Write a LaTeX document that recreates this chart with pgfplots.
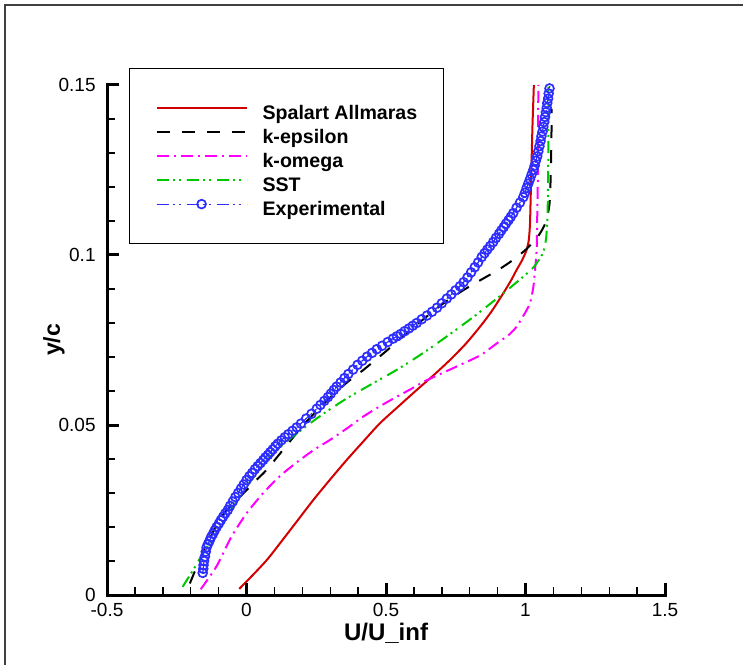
\documentclass[border=0pt]{standalone}
\usepackage{pgfplots}
\pgfplotsset{compat=1.18}
\usepackage{fontspec}
\setmainfont{Liberation Sans}
\definecolor{sared}{RGB}{210,0,0}
\definecolor{komag}{RGB}{255,0,255}
\definecolor{sstgreen}{RGB}{0,200,0}
\definecolor{expblue}{RGB}{45,45,255}
\begin{document}
\begin{tikzpicture}
\useasboundingbox (-53.5pt,-34.5pt) rectangle (318pt,297.5pt);
\draw[line width=0.8pt, black!75] (-51pt,-40pt) -- (-51pt,295pt) -- (330pt,295pt);
\begin{axis}[
  at={(0,0)}, anchor=south west,
  scale only axis, width=279pt, height=255pt,
  xmin=-0.5, xmax=1.5, ymin=0, ymax=0.15,
  axis line style={draw=none},
  xtick pos=bottom, ytick pos=left,
  xtick={-0.5,0,0.5,1,1.5}, ytick={0,0.05,0.1,0.15},
  scaled ticks=false,
  tick style={draw=none},
  /pgf/number format/assume math mode=true,
  /pgf/number format/fixed,
  ticklabel style={font=\fontsize{9.5}{11}\selectfont},
  xticklabel style={anchor=north, inner sep=0pt, yshift=-4pt},
  yticklabel style={anchor=east, inner sep=0pt, xshift=-5.5pt},
  xlabel={U/U\_inf}, ylabel={y/c},
  xlabel style={font=\bfseries\fontsize{12}{14}\selectfont, at={(axis description cs:0.5,0)}, anchor=base, yshift=-22.5pt},
  ylabel style={font=\bfseries\fontsize{11.5}{13}\selectfont, at={(axis description cs:-0.095,0.5)}, anchor=center},
  legend style={
    at={(axis description cs:0.0394,1.0333)}, anchor=north west,
    draw=black, line width=0.6pt, fill=white,
    inner xsep=13pt, inner ysep=12.25pt,
    row sep=-3pt,
    font=\bfseries\fontsize{9.8}{11}\selectfont,
    nodes={inner sep=0pt, text height=13pt, text depth=2pt},
    /tikz/every odd column/.append style={column sep=7.5pt},
  },
  legend cell align=left,
  legend image code/.code={\draw[mark repeat=2,mark phase=2,#1] plot coordinates {(0pt,0pt) (22.5pt,0pt) (45pt,0pt)};},
]
% Spalart Allmaras
\addplot[color=sared, line width=1pt, smooth, tension=0.4] coordinates {
(-0.026,0.0018) (0.030,0.0065) (0.075,0.0105) (0.120,0.0152) (0.180,0.0216) (0.239,0.0279)
(0.299,0.0339) (0.359,0.0397) (0.418,0.0451) (0.478,0.0505) (0.545,0.0555) (0.610,0.0603)
(0.670,0.0646) (0.729,0.0691) (0.785,0.0738) (0.837,0.0789) (0.880,0.0836) (0.920,0.0887)
(0.948,0.0925) (0.968,0.0956) (0.988,0.0985) (1.004,0.1015) (1.012,0.1045) (1.016,0.1090)
(1.018,0.1150) (1.021,0.1250) (1.025,0.1380) (1.030,0.1500)
};
\addlegendentry{Spalart Allmaras}
% k-epsilon
\addplot[color=black, line width=1pt, dash pattern=on 6.5pt off 6pt, smooth, tension=0.4] coordinates {
(-0.203,0.0034) (-0.180,0.0080) (-0.155,0.0127) (-0.120,0.0185) (-0.080,0.0240) (-0.040,0.0276)
(-0.011,0.0299) (0.030,0.0334) (0.072,0.0368) (0.140,0.0436) (0.204,0.0500) (0.250,0.0540)
(0.299,0.0580) (0.360,0.0625) (0.419,0.0662) (0.500,0.0717) (0.574,0.0770) (0.640,0.0815)
(0.706,0.0858) (0.780,0.0898) (0.849,0.0931) (0.900,0.0955) (0.946,0.0980) (1.000,0.1015)
(1.045,0.1055) (1.072,0.1095) (1.086,0.1150) (1.091,0.1250) (1.093,0.1350) (1.094,0.1430)
};
\addlegendentry{k-epsilon}
% k-omega
\addplot[color=komag, line width=1pt, dash pattern=on 6pt off 2.5pt on 1pt off 2.5pt, smooth, tension=0.4] coordinates {
(-0.164,0.0017) (-0.107,0.0085) (-0.055,0.0170) (0.000,0.0240) (0.060,0.0300) (0.120,0.0350)
(0.180,0.0390) (0.240,0.0426) (0.299,0.0456) (0.360,0.0490) (0.419,0.0525) (0.478,0.0555)
(0.538,0.0583) (0.590,0.0606) (0.634,0.0627) (0.700,0.0652) (0.777,0.0681) (0.840,0.0706)
(0.897,0.0740) (0.940,0.0765) (0.968,0.0789) (0.995,0.0825) (1.016,0.0858) (1.028,0.0905)
(1.034,0.0956) (1.040,0.1015) (1.042,0.1110) (1.044,0.1220) (1.045,0.1350) (1.046,0.1500)
};
\addlegendentry{k-omega}
% SST
\addplot[color=sstgreen, line width=1pt, dash pattern=on 6pt off 2pt on 1pt off 2pt on 1pt off 3pt, smooth, tension=0.4] coordinates {
(-0.229,0.0024) (-0.191,0.0074) (-0.150,0.0130) (-0.107,0.0185) (-0.060,0.0245) (-0.010,0.0305)
(0.024,0.0345) (0.100,0.0420) (0.180,0.0475) (0.270,0.0530) (0.359,0.0578) (0.450,0.0621)
(0.538,0.0662) (0.630,0.0710) (0.717,0.0760) (0.820,0.0822) (0.920,0.0887) (0.990,0.0935)
(1.030,0.0965) (1.062,0.1005) (1.074,0.1050) (1.079,0.1123) (1.081,0.1220) (1.082,0.1350)
(1.082,0.1495)
};
\addlegendentry{SST}
% Experimental
\addplot[color=expblue, line width=0.6pt, dash pattern=on 6pt off 2pt on 1pt off 2pt on 1pt off 3pt,
  mark=o, mark size=2.2pt, mark options={solid, line width=0.85pt}] coordinates {
(-0.157,0.0065) (-0.155,0.0077) (-0.154,0.0088) (-0.152,0.0100)
(-0.149,0.0113) (-0.146,0.0127) (-0.143,0.0140)
(-0.138,0.0150) (-0.132,0.0160) (-0.127,0.0170)
(-0.120,0.0180) (-0.114,0.0190) (-0.107,0.0200)
(-0.099,0.0210) (-0.092,0.0220) (-0.084,0.0230)
(-0.076,0.0240) (-0.067,0.0250) (-0.059,0.0262)
(-0.049,0.0275) (-0.040,0.0288) (-0.030,0.0300)
(-0.020,0.0313) (-0.010,0.0325) (0.000,0.0338)
(0.010,0.0349) (0.020,0.0359) (0.030,0.0370)
(0.040,0.0379) (0.050,0.0388) (0.060,0.0397)
(0.068,0.0405) (0.077,0.0412) (0.085,0.0420)
(0.094,0.0428) (0.103,0.0437) (0.112,0.0445)
(0.125,0.0455) (0.137,0.0464) (0.150,0.0473)
(0.165,0.0483) (0.180,0.0493) (0.195,0.0504)
(0.214,0.0519) (0.233,0.0533) (0.252,0.0548)
(0.265,0.0559) (0.279,0.0571) (0.292,0.0582)
(0.302,0.0592) (0.313,0.0603) (0.323,0.0613)
(0.337,0.0625) (0.351,0.0638) (0.365,0.0650)
(0.382,0.0663) (0.398,0.0677) (0.415,0.0689)
(0.432,0.0701) (0.450,0.0712) (0.467,0.0723)
(0.486,0.0733) (0.506,0.0744) (0.525,0.0754)
(0.539,0.0761) (0.553,0.0768) (0.567,0.0776) (0.582,0.0784) (0.596,0.0792) (0.610,0.0800)
(0.628,0.0811) (0.647,0.0822) (0.665,0.0833)
(0.683,0.0845) (0.700,0.0858) (0.718,0.0872)
(0.734,0.0884) (0.749,0.0896) (0.765,0.0908)
(0.778,0.0920) (0.792,0.0934) (0.805,0.0949)
(0.818,0.0964) (0.830,0.0978) (0.843,0.0994)
(0.853,0.1005) (0.863,0.1016) (0.873,0.1026)
(0.884,0.1038) (0.894,0.1050) (0.905,0.1062)
(0.913,0.1072) (0.922,0.1082) (0.930,0.1092)
(0.939,0.1102) (0.947,0.1112) (0.956,0.1123)
(0.968,0.1139) (0.980,0.1154) (0.992,0.1170)
(0.998,0.1183) (1.004,0.1197) (1.010,0.1210)
(1.016,0.1223) (1.022,0.1237) (1.028,0.1250)
(1.033,0.1263) (1.037,0.1277) (1.042,0.1290)
(1.046,0.1305) (1.050,0.1320) (1.054,0.1335)
(1.057,0.1349) (1.061,0.1363) (1.064,0.1377)
(1.067,0.1391) (1.070,0.1406) (1.073,0.1420)
(1.076,0.1433) (1.078,0.1447) (1.081,0.1460)
(1.083,0.1475) (1.086,0.1490) (1.088,0.1505)
};
\addlegendentry{Experimental}
\end{axis}
% axis lines and ticks (bottom and left only, ticks inward)
\foreach \i in {1,...,19} \draw[line width=0.7pt] (\i*13.95pt,0pt) -- ++(0pt,4pt);
\foreach \i in {0,...,4} \draw[line width=1.5pt] (\i*69.75pt,0pt) -- ++(0pt,6pt);
\foreach \i in {1,...,14} \draw[line width=0.7pt] (0pt,\i*17pt) -- ++(4pt,0pt);
\foreach \i in {0,...,3} \draw[line width=1.5pt] (0pt,\i*85pt) -- ++(6pt,0pt);
\draw[line width=1.5pt, line cap=rect] (0pt,255pt) -- (0pt,0pt) -- (279pt,0pt);
\end{tikzpicture}
\end{document}
